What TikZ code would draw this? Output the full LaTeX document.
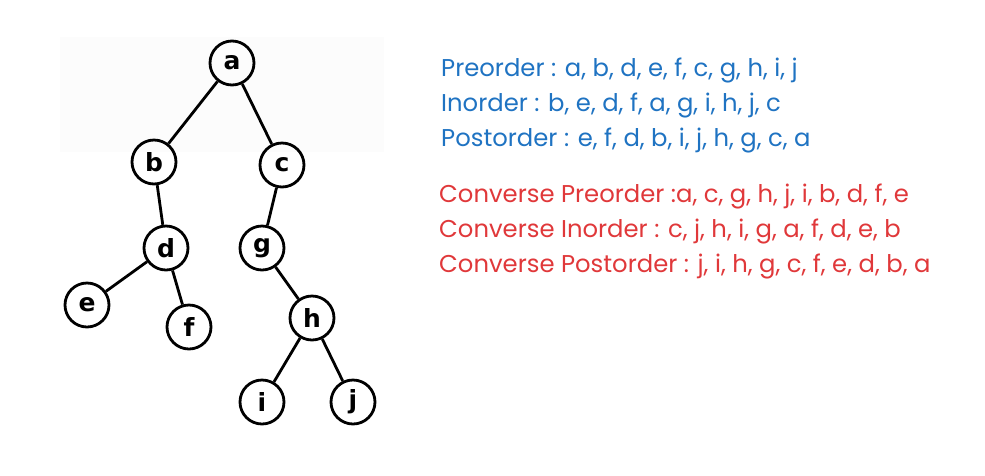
\documentclass[tikz,border=0pt]{standalone}
\usepackage{fontspec}
\setmainfont{Poppins}
\newfontfamily\vertexfont{DejaVu Sans}
\usetikzlibrary{positioning}
\definecolor{orderblue}{RGB}{31,115,194}
\definecolor{orderred}{RGB}{224,56,58}
\tikzset{
	vertex/.style={draw, circle, line width=2.8pt, minimum size=44pt, inner sep=0pt, font=\vertexfont\bfseries\fontsize{25}{25}\selectfont},
	edge/.style={line width=2.8pt},
	order/.style={anchor=base west, inner sep=0pt, font=\fontsize{24.3}{24.3}\selectfont}
}

\begin{document}
\begin{tikzpicture}[x=1pt, y=-1pt]
	\useasboundingbox (0,0) rectangle (985,475);
	\fill [black!1] (60,37) rectangle (384,152);

	\node [vertex] (a) at (232,63) {a};
	\node [vertex] (b) at (154,162) {b};
	\node [vertex] (c) at (282,165) {c};
	\node [vertex] (d) at (166,248) {d};
	\node [vertex] (g) at (262,248) {g};
	\node [vertex] (e) at (87,305) {e};
	\node [vertex] (f) at (189,327) {f};
	\node [vertex] (h) at (312,318) {h};
	\node [vertex] (i) at (262,402) {i};
	\node [vertex] (j) at (353,402) {j};

	\draw [edge] (a) -- (b);
	\draw [edge] (a) -- (c);
	\draw [edge] (b) -- (d);
	\draw [edge] (d) -- (e);
	\draw [edge] (d) -- (f);
	\draw [edge] (c) -- (g);
	\draw [edge] (g) -- (h);
	\draw [edge] (h) -- (i);
	\draw [edge] (h) -- (j);

	\node [order, text=orderblue] (pre) at (441,76) {Preorder : a, b, d, e, f, c, g, h, i, j};
	\node [order, text=orderblue] (in) at (441,111) {Inorder : b, e, d, f, a, g, i, h, j, c};
	\node [order, text=orderblue] (post) at (441,146) {Postorder : e, f, d, b, i, j, h, g, c, a};
	\node [order, text=orderred] (cpre) at (439,202) {Converse Preorder :a, c, g, h, j, i, b, d, f, e};
	\node [order, text=orderred] (cin) at (439,237) {Converse Inorder : c, j, h, i, g, a, f, d, e, b};
	\node [order, text=orderred] (cpost) at (439,272) {Converse Postorder : j, i, h, g, c, f, e, d, b, a};
\end{tikzpicture}
\end{document}
